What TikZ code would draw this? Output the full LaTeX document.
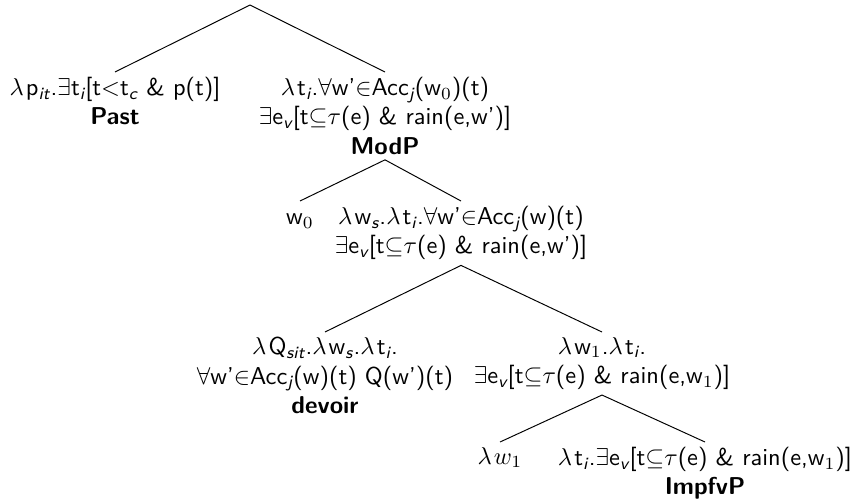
\documentclass[tikz,border=0pt]{standalone}
\usepackage{amsmath,amssymb}
\usepackage{tikz}
\usetikzlibrary{positioning}
\renewcommand{\familydefault}{\sfdefault}
\newcommand{\sub}[1]{$_{\textit{#1}}$}
\newcommand{\lam}{$\lambda$\kern0.9pt}

\begin{document}
\begin{tikzpicture}[x=0.41pt, y=-0.41pt,
    lbl/.style={align=center, inner xsep=0pt, inner ysep=2pt, anchor=north},
    branch/.style={line width=0.4pt},
]
    \useasboundingbox (0,0) rectangle (855,498);

    \coordinate (root) at (250,5);
    \node[lbl] (past) at (115,72) {\lam p\sub{it}.$\exists$t\sub{i}[t$<$t\sub{c} \& p(t)]\\ \textbf{Past}};
    \node[lbl] (modp) at (385,72) {\lam t\sub{i}.$\forall$w'$\in$Acc\sub{j}(w$_0$)(t)\\ $\exists$e\sub{v}[t$\subseteq$$\tau$(e) \& rain(e,w')]\\ \textbf{ModP}};

    \node[lbl] (wzero) at (300,201) {\vphantom{(}w$_0$};
    \node[lbl] (modbar) at (461,201) {\lam w\sub{s}.\lam t\sub{i}.$\forall$w'$\in$Acc\sub{j}(w)(t)\\ $\exists$e\sub{v}[t$\subseteq$$\tau$(e) \& rain(e,w')]};

    \node[lbl] (devoir) at (325,332) {\lam Q\sub{sit}.\lam w\sub{s}.\lam t\sub{i}.\\ $\forall$w'$\in$Acc\sub{j}(w)(t) Q(w')(t)\\ \textbf{devoir}};
    \node[lbl] (wone) at (602,332) {\lam w$_1$.\lam t\sub{i}.\\ $\exists$e\sub{v}[t$\subseteq$$\tau$(e) \& rain(e,w$_1$)]};

    \node[lbl] (wlam) at (500,442) {\lam$w_1$};
    \node[lbl] (impfvp) at (705,442) {\lam t\sub{i}.$\exists$e\sub{v}[t$\subseteq$$\tau$(e) \& rain(e,w$_1$)]\\ \textbf{ImpfvP}};

    \draw[branch] (root) -- (past.north);
    \draw[branch] (root) -- (modp.north);
    \draw[branch] (modp.south) -- (wzero.north);
    \draw[branch] (modp.south) -- (modbar.north);
    \draw[branch] (modbar.south) -- (devoir.north);
    \draw[branch] (modbar.south) -- (wone.north);
    \draw[branch] (wone.south) -- (wlam.north);
    \draw[branch] (wone.south) -- (impfvp.north);
\end{tikzpicture}
\end{document}
